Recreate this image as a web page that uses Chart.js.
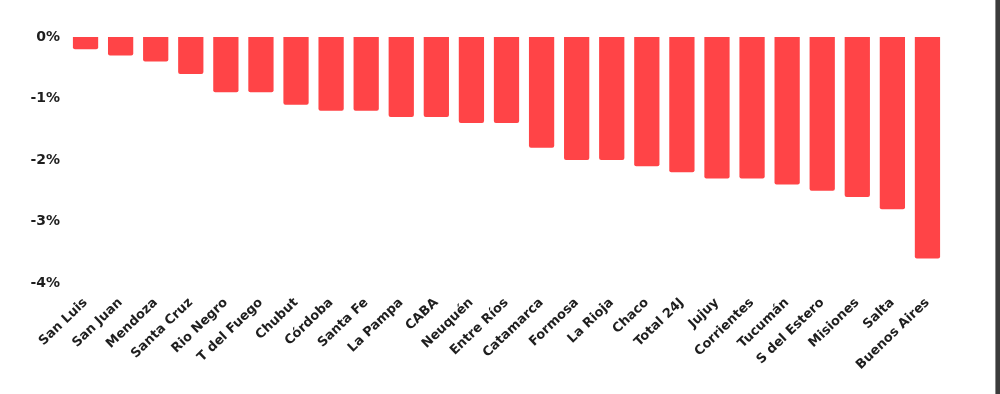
<!DOCTYPE html>
<html>
<head>
<meta charset="utf-8">
<script src="https://cdn.jsdelivr.net/npm/chart.js@4"></script>
<style>
  html, body { margin: 0; padding: 0; background: #fff; }
  #wrap { position: relative; width: 1000px; height: 394px; }
  #edge { position: absolute; right: 0; top: 0; width: 4px; height: 394px; background: #3c3c3c; border-left: 1px solid #8a8a8a; }
</style>
</head>
<body>
<div id="wrap">
  <canvas id="bar-chart" width="1000" height="394"></canvas>
  <div id="edge"></div>
</div>
<script>
let provinces = ["San Luis", "San Juan", "Mendoza", "Santa Cruz", "Rio Negro", "T del Fuego", "Chubut",
  "Córdoba", "Santa Fe", "La Pampa", "CABA", "Neuquén", "Entre Ríos", "Catamarca", "Formosa",
  "La Rioja", "Chaco", "Total 24J", "Jujuy", "Corrientes", "Tucumán", "S del Estero", "Misiones",
  "Salta", "Buenos Aires"]
let changeValues = [-0.2, -0.3, -0.4, -0.6, -0.9, -0.9, -1.1, -1.2, -1.2, -1.3, -1.3, -1.4, -1.4,
  -1.8, -2.0, -2.0, -2.1, -2.2, -2.3, -2.3, -2.4, -2.5, -2.6, -2.8, -3.6]
let yTicks = [0, -1, -2, -3, -4]

const yFont = { family: "'DejaVu Sans', sans-serif", size: 14, weight: 'bold' }
const xFont = { family: "'DejaVu Sans', sans-serif", size: 13, weight: 'bold' }

new Chart(document.getElementById("bar-chart"), {
    type: 'bar',
    data: {
        labels: provinces,
        datasets: [{
            data: changeValues,
            backgroundColor: "#ff4447",
            borderRadius: 2,
            borderSkipped: 'start',
            barPercentage: 0.72,
            categoryPercentage: 1
        }]
    },
    options: {
        responsive: false,
        animation: false,
        layout: { padding: { top: 37, right: 55, left: 0, bottom: 0 } },
        plugins: { legend: { display: false }, tooltip: { enabled: false } },
        scales: {
            x: {
                grid: { display: false, drawTicks: false },
                border: { display: false },
                ticks: { color: "#1e1e1e", font: xFont, minRotation: 44, maxRotation: 44, autoSkip: false, padding: 12 },
                afterFit: function (scale) { scale.height = 111 }
            },
            y: {
                min: -4,
                max: 0,
                grid: { display: false, drawTicks: false },
                border: { display: false },
                afterBuildTicks: function (scale) { scale.ticks = yTicks.map(v => ({ value: v })) },
                ticks: {
                    color: "#1e1e1e",
                    font: yFont,
                    padding: 8,
                    callback: function (v) { return v + '%' }
                },
                afterFit: function (scale) { scale.width = 68 }
            }
        }
    }
});
</script>
</body>
</html>
